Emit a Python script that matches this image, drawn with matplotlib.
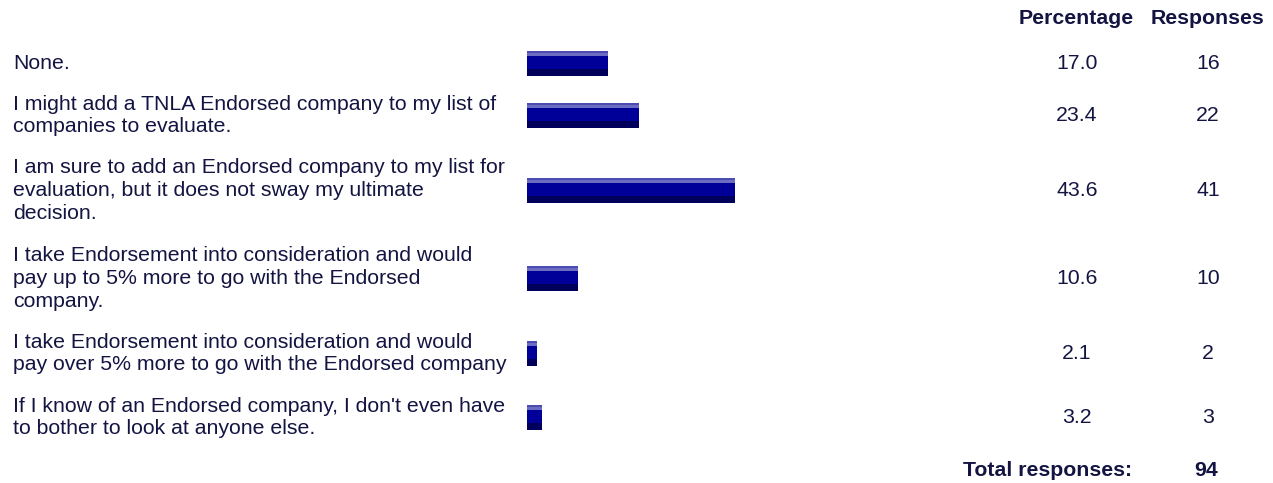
import matplotlib
matplotlib.use("Agg")
import matplotlib.pyplot as plt

# survey answers, one row each
answers = [
    "None.",
    "I might add a TNLA Endorsed company to my list of\ncompanies to evaluate.",
    "I am sure to add an Endorsed company to my list for\nevaluation, but it does not sway my ultimate\ndecision.",
    "I take Endorsement into consideration and would\npay up to 5% more to go with the Endorsed\ncompany.",
    "I take Endorsement into consideration and would\npay over 5% more to go with the Endorsed company",
    "If I know of an Endorsed company, I don't even have\nto bother to look at anyone else.",
]
percentage = [17.0, 23.4, 43.6, 10.6, 2.1, 3.2]
responses = [16, 22, 41, 10, 2, 3]
total_responses = 94
col_headers = ["Percentage", "Responses"]

# layout (pixels, figure is 1273 x 483)
W, H = 1273, 483
row_y = [63.5, 115.5, 190.5, 278.5, 353.5, 417.5]
bar_x0, bar_x1 = 527, 1004          # 0..100 %
pct_x, resp_x = 1077, 1208
text_col = "#141442"
fs = 15.3

# bar is drawn as horizontal stripes: (offset from top, height, colour)
stripes = [(0, 2, "#4b4bb2"), (2, 3, "#6b6bc2"), (5, 13, "#000099"), (18, 7, "#00005c")]
bar_h = 25

plt.rcParams["font.family"] = ["Liberation Sans", "DejaVu Sans"]

fig = plt.figure(figsize=(W / 100, H / 100), dpi=100)
ax = fig.add_axes([0, 0, 1, 1])
ax.set_xlim(0, W)
ax.set_ylim(H, 0)
ax.axis("off")

bx = fig.add_axes([bar_x0 / W, 0, (bar_x1 - bar_x0) / W, 1])
bx.set_xlim(0, 100)
bx.set_ylim(H, 0)
bx.axis("off")

for y, lab, p, r in zip(row_y, answers, percentage, responses):
    ax.text(13, y, lab, ha="left", va="center", fontsize=fs, color=text_col,
            linespacing=1.25)
    top = y - bar_h / 2
    for off, h, c in stripes:
        bx.barh(top + off + h / 2, p, height=h, left=0, color=c, linewidth=0)
    ax.text(pct_x, y, f"{p:.1f}", ha="center", va="center", fontsize=fs, color=text_col)
    ax.text(resp_x, y, str(r), ha="center", va="center", fontsize=fs, color=text_col)

ax.text(1076, 18, col_headers[0], ha="center", va="center", fontsize=fs,
        fontweight="bold", color=text_col)
ax.text(1207, 18, col_headers[1], ha="center", va="center", fontsize=fs,
        fontweight="bold", color=text_col)
ax.text(1132, 470, "Total responses:", ha="right", va="center", fontsize=fs,
        fontweight="bold", color=text_col)
ax.text(1206, 470, str(total_responses), ha="center", va="center", fontsize=fs,
        fontweight="bold", color=text_col)

fig.savefig("out.png", dpi=100)
